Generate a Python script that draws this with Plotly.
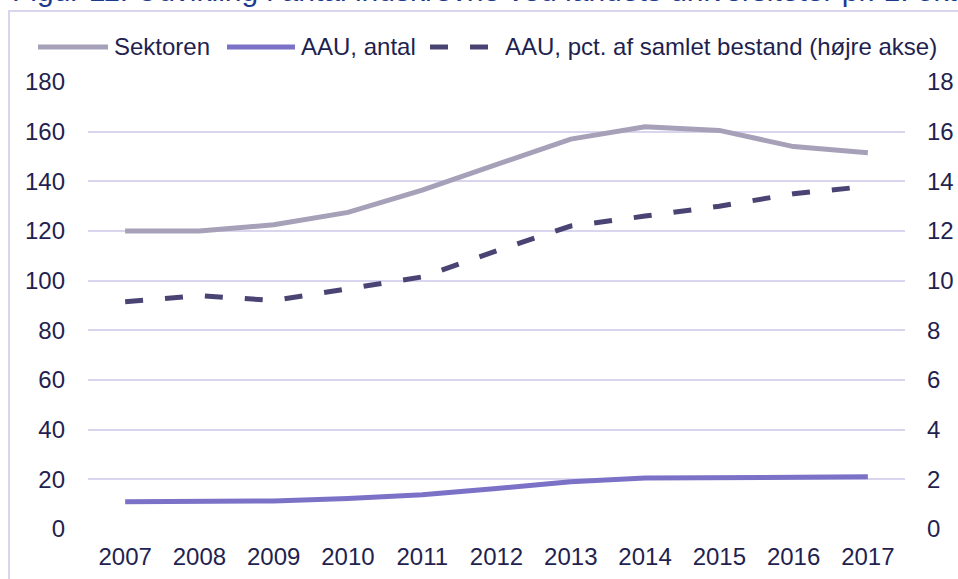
import plotly.graph_objects as go

years = ["2007", "2008", "2009", "2010", "2011", "2012", "2013", "2014", "2015", "2016", "2017"]
sektoren = [120, 120, 122.5, 127.5, 136.5, 147, 157, 162, 160.5, 154, 151.5]
aau_antal = [11, 11.3, 11.3, 12.3, 13.8, 16.3, 19, 20.5, 20.7, 20.7, 21]
aau_pct = [9.15, 9.4, 9.2, 9.65, 10.15, 11.2, 12.2, 12.6, 13, 13.5, 13.8]

names = ["Sektoren", "AAU, antal", "AAU, pct. af samlet bestand (højre akse)"]
colors = ["#A6A1B8", "#7B72C8", "#4A4474"]

txt = "#231F4F"
grid = "#D9D5EE"
dash = "18px,22px"
fs = 24

# plot area in pixels: 817 x 447
L, R, T, B = 88, 53, 82, 50
W, H = 958 - L - R, 579 - T - B


def px(x):
    return (x - L) / W


def py(y):
    return 1 - (y - T) / H


fig = go.Figure()
fig.add_trace(go.Scatter(x=years, y=sektoren, name=names[0], mode="lines",
                         line=dict(color=colors[0], width=5)))
fig.add_trace(go.Scatter(x=years, y=aau_antal, name=names[1], mode="lines",
                         line=dict(color=colors[1], width=5)))
fig.add_trace(go.Scatter(x=years, y=aau_pct, name=names[2], mode="lines", yaxis="y2",
                         line=dict(color=colors[2], width=5, dash=dash)))

fig.update_layout(
    width=958, height=579,
    margin=dict(l=L, r=R, t=T, b=B),
    paper_bgcolor="white", plot_bgcolor="white",
    font=dict(family="Liberation Sans, Arial", size=fs, color=txt),
    showlegend=False,
    xaxis=dict(type="category", range=[-0.5, 10.5], showgrid=False, zeroline=False,
               showline=False, ticks="", ticklabelstandoff=11, automargin=False,
               tickfont=dict(size=fs, color=txt)),
    yaxis=dict(range=[0, 180], dtick=20, showgrid=True, gridcolor=grid, gridwidth=1.5,
               zeroline=False, showline=False, ticks="", ticklabelstandoff=22,
               automargin=False, tickfont=dict(size=fs, color=txt)),
    yaxis2=dict(range=[0, 18], dtick=2, overlaying="y", side="right", showgrid=False,
                zeroline=False, showline=False, ticks="", ticklabelstandoff=21,
                automargin=False, tickfont=dict(size=fs, color=txt)),
)

# chart frame
fig.add_shape(type="rect", xref="paper", yref="paper",
              x0=px(9), x1=px(962), y0=py(585), y1=py(11),
              line=dict(color=grid, width=2), layer="below")

# legend drawn by hand (long line samples)
leg_y = py(47)
items = [(38, 108, 112), (227, 295, 299), (430, 492, 503)]
for (a, b, t), name, col in zip(items, names, colors):
    fig.add_shape(type="line", xref="paper", yref="paper",
                  x0=px(a), x1=px(b), y0=leg_y, y1=leg_y,
                  line=dict(color=col, width=5, dash=dash if col == colors[2] else "solid"))
    fig.add_annotation(text=name, xref="paper", yref="paper", x=px(t), xanchor="left",
                       y=leg_y, yanchor="middle", showarrow=False,
                       font=dict(size=fs, color=txt))

# title cut off at the top of the image
fig.add_annotation(text="Figur 11. Udvikling i antal indskrevne ved landets universiteter pr. 1. okt.",
                   xref="paper", yref="paper", x=px(10), xanchor="left",
                   y=py(9), yanchor="bottom", showarrow=False,
                   font=dict(size=30, color="#1F3A8C"))

fig.write_html("out.html", config={"displayModeBar": False},
               post_script="document.body.style.margin='0';")
